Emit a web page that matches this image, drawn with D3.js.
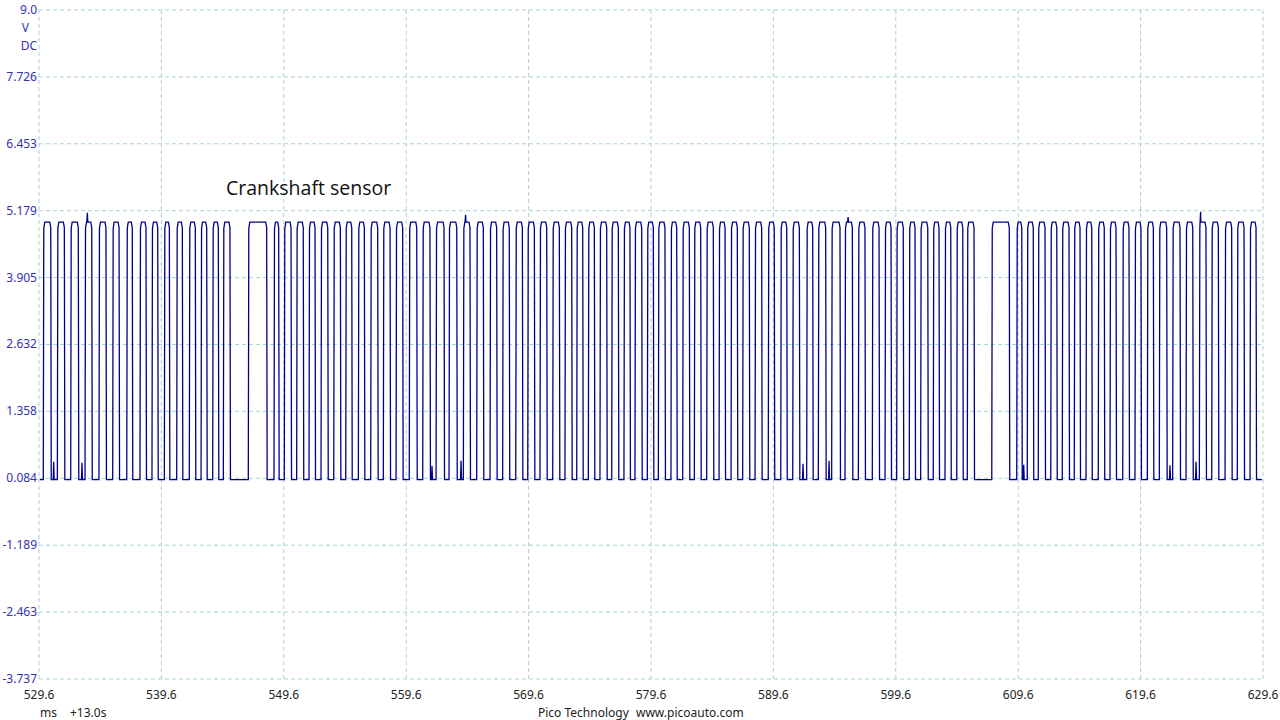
<!DOCTYPE html>
<html lang="en">
<head>
    <meta charset="utf-8">
    <title>Crankshaft sensor</title>
    <script src="https://d3js.org/d3.v7.min.js"></script>
</head>
<body style="margin:0; background:#fff">
<div id="scope"></div>
<style>
    text { font-family: "Noto Sans", "Open Sans", sans-serif; }
</style>
<script>
	// tick labels
	var yTickLabels = ["9.0", "7.726", "6.453", "5.179", "3.905", "2.632", "1.358", "0.084", "-1.189", "-2.463", "-3.737"];
	var xTickLabels = ["529.6", "539.6", "549.6", "559.6", "569.6", "579.6", "589.6", "599.6", "609.6", "619.6", "629.6"];

	// capture window (ms) and logic levels (V)
	var traceStart = 529.68, traceEnd = 629.52;
	var lowLevel = 0.06, highLevel = 4.96;

	// rising / falling edges of each tooth, ms
	var risingEdges = [
		529.95, 531.10, 532.19, 533.36, 534.50, 535.62, 536.77, 537.85, 538.83, 539.84,
		540.85, 541.88, 542.84, 543.79, 544.66, 546.70, 548.80, 549.64, 550.65, 551.66,
		552.64, 553.68, 554.66, 555.69, 556.70, 557.73, 558.77, 559.85, 560.95, 562.04,
		563.10, 564.27, 565.36, 566.45, 567.48, 568.55, 569.53, 570.53, 571.57, 572.57,
		573.53, 574.48, 575.43, 576.39, 577.39, 578.29, 579.30, 580.20, 581.23, 582.19,
		583.14, 584.15, 585.16, 586.14, 587.09, 588.10, 589.18, 590.20, 591.18, 592.32,
		593.27, 594.36, 595.45, 596.54, 597.68, 598.72, 599.67, 600.70, 601.63, 602.66,
		603.62, 604.58, 605.44, 607.44, 609.48, 610.34, 611.24, 612.26, 613.20, 614.18,
		615.14, 616.14, 617.10, 618.14, 619.14, 620.15, 621.13, 622.22, 623.31, 624.40,
		625.41, 626.50, 627.50, 628.54
	];
	var fallingEdges = [
		530.56, 531.67, 532.81, 533.91, 535.07, 536.14, 537.22, 538.34, 539.30, 540.25,
		541.31, 542.37, 543.30, 544.25, 545.20, 548.20, 549.18, 550.19, 551.19, 552.15,
		553.19, 554.22, 555.15, 556.18, 557.27, 558.28, 559.31, 560.46, 561.54, 562.69,
		563.73, 564.81, 565.90, 566.99, 568.02, 569.09, 570.07, 571.08, 572.11, 573.12,
		574.02, 574.97, 575.98, 576.93, 577.88, 578.84, 579.79, 580.74, 581.70, 582.73,
		583.66, 584.69, 585.65, 586.65, 587.63, 588.64, 589.67, 590.69, 591.72, 592.81,
		593.87, 595.04, 596.05, 597.08, 598.23, 599.21, 600.21, 601.17, 602.21, 603.13,
		604.09, 605.07, 605.99, 608.87, 609.89, 610.83, 611.79, 612.75, 613.75, 614.65,
		615.61, 616.63, 617.59, 618.65, 619.63, 620.64, 621.73, 622.82, 623.86, 624.94,
		625.95, 627.04, 628.05, 629.03
	];
	// noise spikes on the trace [ms, V]
	var glitches = [
		[533.55, 5.14], [564.45, 5.10], [595.70, 5.06], [624.50, 5.16],
		[530.80, 0.40], [533.11, 0.38], [561.71, 0.32], [564.08, 0.42],
		[592.02, 0.36], [594.15, 0.42], [610.05, 0.34], [622.00, 0.33], [624.13, 0.40]
	];

	(function () {
		var width = 1280, height = 720,
			left = 39, right = 1263, top = 10, bottom = 679;

		var svg = d3.select("#scope").append("svg")
			.attr("width", width).attr("height", height);

		var x = d3.scaleLinear().domain([+xTickLabels[0], +xTickLabels[xTickLabels.length - 1]]).range([left, right]);
		var y = d3.scaleLinear().domain([+yTickLabels[yTickLabels.length - 1], +yTickLabels[0]]).range([bottom, top]);

		var gridColor = "#a9d2da";

		// horizontal grid
		svg.append("g").selectAll("line")
			.data(yTickLabels)
			.enter().append("line")
			.attr("x1", left).attr("x2", right)
			.attr("y1", function (d) { return y(+d); })
			.attr("y2", function (d) { return y(+d); })
			.style("stroke", gridColor)
			.style("stroke-dasharray", "4,3");

		// vertical grid
		svg.append("g").selectAll("line")
			.data(xTickLabels)
			.enter().append("line")
			.attr("x1", function (d) { return x(+d); })
			.attr("x2", function (d) { return x(+d); })
			.attr("y1", top).attr("y2", bottom)
			.style("stroke", gridColor)
			.style("stroke-dasharray", "4,3");

		// y labels
		svg.append("g").selectAll("text")
			.data(yTickLabels)
			.enter().append("text")
			.attr("x", left - 2)
			.attr("y", function (d) { return y(+d) + 4; })
			.attr("text-anchor", "end")
			.style("font-size", "12px")
			.style("fill", "#3232b4")
			.text(function (d) { return d; });

		svg.append("text").attr("x", left - 10).attr("y", y(+yTickLabels[0]) + 22)
			.attr("text-anchor", "end").style("font-size", "12px").style("fill", "#3232b4").text("V");
		svg.append("text").attr("x", left - 2).attr("y", y(+yTickLabels[0]) + 40)
			.attr("text-anchor", "end").style("font-size", "12px").style("fill", "#3232b4").text("DC");

		// x labels
		svg.append("g").selectAll("text")
			.data(xTickLabels)
			.enter().append("text")
			.attr("x", function (d) { return x(+d); })
			.attr("y", bottom + 20)
			.attr("text-anchor", "middle")
			.style("font-size", "12px")
			.style("fill", "#222")
			.text(function (d) { return d; });

		svg.append("text").attr("x", 40).attr("y", 717).style("font-size", "12px").style("fill", "#222").text("ms");
		svg.append("text").attr("x", 70).attr("y", 717).style("font-size", "12px").style("fill", "#222").text("+13.0s");
		svg.append("text").attr("x", 538).attr("y", 717).style("font-size", "12px").style("fill", "#222").text("Pico Technology");
		svg.append("text").attr("x", 636).attr("y", 717).style("font-size", "12px").style("fill", "#222").text("www.picoauto.com");

		// build the trace from the edge lists
		var pts = [[traceStart, lowLevel]];
		risingEdges.forEach(function (r, i) {
			var f = fallingEdges[i];
			pts.push([r, lowLevel], [r + 0.04, highLevel - 0.12], [r + 0.12, highLevel],
				[f - 0.08, highLevel], [f, highLevel - 0.1], [f + 0.04, lowLevel]);
		});
		pts.push([traceEnd, lowLevel]);

		function isHigh(t) {
			return risingEdges.some(function (r, i) { return t > r && t < fallingEdges[i]; });
		}
		glitches.forEach(function (g) {
			var base = isHigh(g[0]) ? highLevel : lowLevel;
			pts.push([g[0] - 0.04, base], [g[0], g[1]], [g[0] + 0.04, base]);
		});
		pts.sort(function (a, b) { return a[0] - b[0]; });

		var line = d3.line()
			.x(function (d) { return x(d[0]); })
			.y(function (d) { return y(d[1]); });

		svg.append("path")
			.datum(pts)
			.attr("d", line)
			.style("fill", "none")
			.style("stroke", "#00008c")
			.style("stroke-width", "1.3px");

		svg.append("text")
			.attr("x", 226).attr("y", 195)
			.style("font-family", "'Open Sans', sans-serif")
			.style("font-size", "19.5px")
			.style("fill", "#111")
			.text("Crankshaft sensor");
	}());
</script>
</body>
</html>
